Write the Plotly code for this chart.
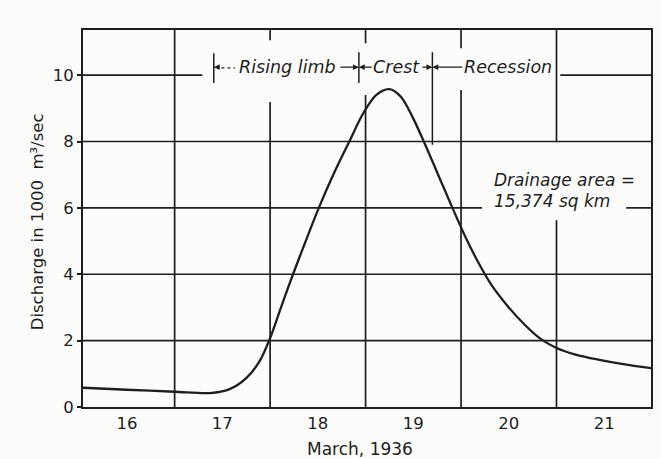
import plotly.graph_objects as go

# Discharge hydrograph, March 1936 (days as decimal day-of-month)
days = [15.54, 16.0, 16.5, 16.87, 17.07, 17.25, 17.39, 17.5, 17.62, 17.74,
        17.88, 18.01, 18.17, 18.33, 18.47, 18.61, 18.75, 18.87, 18.99, 19.11,
        19.26, 19.41, 19.55, 19.68, 19.82, 20.0, 20.17, 20.33, 20.5, 20.7,
        20.95, 21.2, 21.49]
discharge = [0.58, 0.52, 0.46, 0.42, 0.53, 0.87, 1.38, 2.08, 3.05, 4.0,
             5.05, 6.0, 7.05, 8.0, 8.82, 9.4, 9.58, 9.35, 8.75, 8.0,
             7.0, 6.0, 5.1, 4.36, 3.67, 3.0, 2.47, 2.06, 1.78, 1.58,
             1.42, 1.29, 1.17]

day_ticks = [16, 17, 18, 19, 20, 21]
day_labels = ["16", "17", "18", "19", "20", "21"]
q_ticks = [0, 2, 4, 6, 8, 10]
q_labels = ["0", "2", "4", "6", "8", "10"]

# Phase boundaries on the hydrograph
rise_start, crest_start, recession_start = 16.91, 18.43, 19.2
phase_names = ["Rising limb", "Crest", "Recession"]
phase_centers = [17.68, 18.82, 19.99]

X0, X1 = 15.54, 21.49
Y0, Y1 = 0, 11.36
INK = "#1e1e1e"
FONT = "DejaVu Sans"

fig = go.Figure()
fig.add_trace(go.Scatter(
    x=days, y=discharge, mode="lines",
    line=dict(color=INK, width=2.3, shape="spline", smoothing=0.9),
    hoverinfo="skip", showlegend=False))

shapes = []


def seg(x0, y0, x1, y1, w=1.7, dash=None):
    ln = dict(color=INK, width=w)
    if dash:
        ln["dash"] = dash
    shapes.append(dict(type="line", xref="x", yref="y", x0=x0, y0=y0,
                       x1=x1, y1=y1, line=ln, layer="below"))


# horizontal grid, broken where labels sit
for q in [2, 4, 8]:
    seg(X0, q, X1, q)
seg(X0, 6, 19.72, 6)
seg(21.23, 6, X1, 6)
seg(X0, 10, 16.79, 10)
seg(20.54, 10, X1, 10)

# vertical grid at day boundaries
seg(16.5, Y0, 16.5, Y1)
seg(17.5, Y0, 17.5, 9.19)
seg(17.5, 11.05, 17.5, Y1)
seg(18.5, Y0, 18.5, 9.4)
seg(18.5, 10.96, 18.5, Y1)
seg(19.5, Y0, 19.5, 9.55)
seg(19.5, 10.81, 19.5, Y1)
seg(20.5, Y0, 20.5, 5.63)
seg(20.5, 7.98, 20.5, Y1)

# phase boundary markers
seg(rise_start, 9.76, rise_start, 10.66, w=1.5)
seg(crest_start, 9.76, crest_start, 10.69, w=1.5)
seg(recession_start, 7.9, recession_start, 10.69, w=1.5)

# dashed lead-in to the left marker
seg(16.99, 10.22, 17.13, 10.22, w=1.2, dash="3px,3px")

annotations = []
ylab = 10.24
for name, xc in zip(phase_names, phase_centers):
    annotations.append(dict(x=xc, y=ylab, xref="x", yref="y",
                            text="<i>" + name + "</i>", showarrow=False,
                            font=dict(family=FONT, size=17.5, color=INK)))


def arrow(head, tail):
    annotations.append(dict(x=head, y=ylab, ax=tail, ay=ylab, xref="x",
                            yref="y", axref="x", ayref="y", text="",
                            showarrow=True, arrowhead=2, arrowsize=0.9,
                            arrowwidth=1.3, arrowcolor=INK))


arrow(rise_start, 16.99)
arrow(crest_start, 18.22)
arrow(crest_start, 18.58)
arrow(recession_start, 19.08)
arrow(recession_start, 19.53)

annotations.append(dict(x=19.82, y=6.84, xref="x", yref="y", xanchor="left",
                        text="<i>Drainage area =</i>", showarrow=False,
                        font=dict(family=FONT, size=17, color=INK)))
annotations.append(dict(x=19.82, y=6.22, xref="x", yref="y", xanchor="left",
                        text="<i>15,374 sq km</i>", showarrow=False,
                        font=dict(family=FONT, size=17, color=INK)))

# axis titles
annotations.append(dict(x=0.488, y=0, xref="paper", yref="paper",
                        xanchor="center", yanchor="top", yshift=-30,
                        text="March, 1936", showarrow=False,
                        font=dict(family=FONT, size=17, color=INK)))
annotations.append(dict(x=0, y=0.49, xref="paper", yref="paper",
                        xanchor="center", yanchor="middle", xshift=-46,
                        text="Discharge in 1000  m³/sec",
                        textangle=-90, showarrow=False,
                        font=dict(family=FONT, size=16.5, color=INK)))

fig.update_layout(
    width=661, height=459,
    margin=dict(l=83, r=8, t=30, b=52),
    paper_bgcolor="#fcfcfa", plot_bgcolor="#fcfcfa",
    shapes=shapes, annotations=annotations,
    font=dict(family=FONT, size=16, color=INK),
    xaxis=dict(range=[X0, X1], tickvals=day_ticks, ticktext=day_labels,
               showgrid=False, zeroline=False, showline=True, mirror=True,
               linecolor=INK, linewidth=2, ticks="", ticklabelstandoff=0,
               tickfont=dict(size=16.5)),
    yaxis=dict(range=[Y0, Y1], tickvals=q_ticks, ticktext=q_labels,
               showgrid=False, zeroline=False, showline=True, mirror=True,
               linecolor=INK, linewidth=2, ticks="outside", ticklen=4,
               tickcolor=INK, tickwidth=1.5, tickfont=dict(size=16.5)),
)

fig.write_html("out.html")
